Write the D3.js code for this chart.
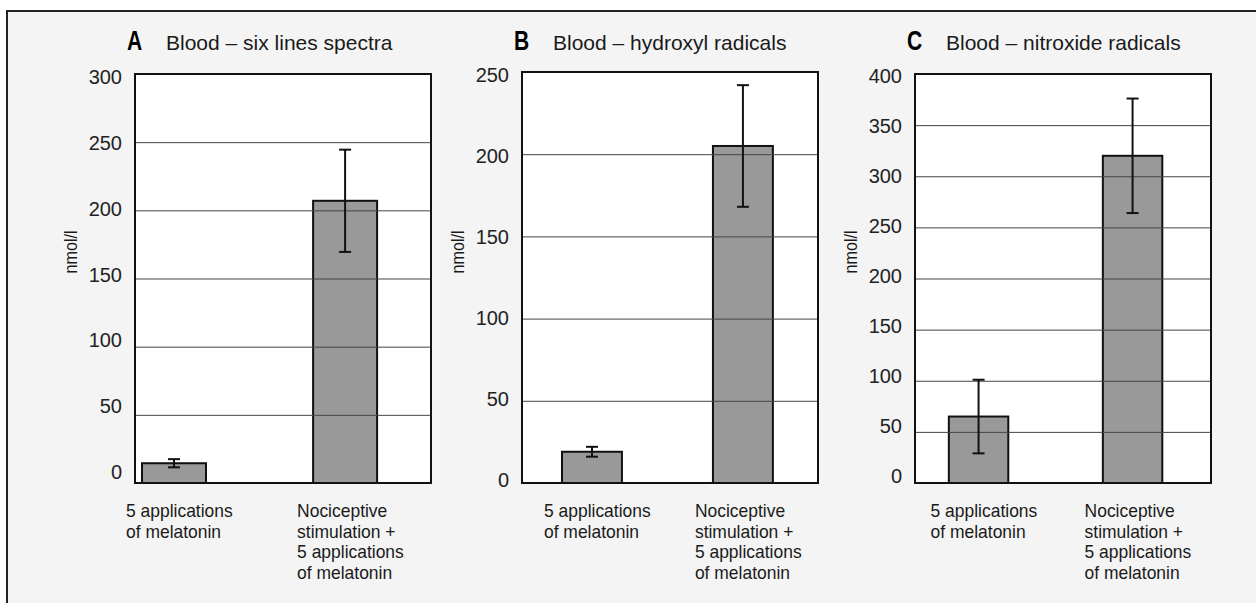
<!DOCTYPE html>
<html>
<head>
<meta charset="utf-8">
<script src="https://cdn.jsdelivr.net/npm/d3@7"></script>
<style>
    body { margin: 0; background: #ffffff; }
    svg { display: block; }
    .sans { font-family: "Liberation Sans", Arial, sans-serif; fill: #1a1a1a; }
</style>
</head>
<body>
<div id="chart-container"></div>
<script>
// data
const categories = [
    ["5 applications", "of melatonin"],
    ["Nociceptive", "stimulation +", "5 applications", "of melatonin"]
];
const panelLetters = ["A", "B", "C"];
const panelTitles = ["Blood \u2013 six lines spectra", "Blood \u2013 hydroxyl radicals", "Blood \u2013 nitroxide radicals"];
const yMaxima = [300, 250, 400];
const tickStep = 50;
const yLabel = "nmol/l";

const meansA = [14.5, 207];
const sdA = [3, 37.5];
const meansB = [19, 205];
const sdB = [3, 37];
const meansC = [65, 320];
const sdC = [36, 56];

const means = [meansA, meansB, meansC];
const sds = [sdA, sdB, sdC];

const width = 1256;
const height = 603;

// plot boxes and bar spacing for each panel
const layout = [
    { left: 135, top: 74, bottom: 483, w: 296, pi: 0.626, po: 0.178, align: 0.115, shift: [-11, 3.5] },
    { left: 522, top: 72, bottom: 483, w: 296, pi: 0.603, po: 0.282, align: 0.47, shift: [-3, 3] },
    { left: 915, top: 74, bottom: 483, w: 296, pi: 0.614, po: 0.268, align: 0.41, shift: [-7, 2] }
];

const svg = d3.select("#chart-container")
    .append("svg")
    .attr("width", width)
    .attr("height", height);

// outer frame
svg.append("rect")
    .attr("x", 7)
    .attr("y", 11)
    .attr("width", width + 10)
    .attr("height", height + 10)
    .attr("fill", "#f4f4f4")
    .attr("stroke", "#222")
    .attr("stroke-width", 2);

layout.forEach(function(L, i) {
    const g = svg.append("g");

    const x = d3.scaleBand()
        .domain([0, 1])
        .range([L.left, L.left + L.w])
        .paddingInner(L.pi)
        .paddingOuter(L.po)
        .align(L.align);

    const y = d3.scaleLinear()
        .domain([0, yMaxima[i]])
        .range([L.bottom, L.top]);

    // tick labels sit a little off the grid lines in the original
    const yLab = d3.scaleLinear()
        .domain([0, yMaxima[i]])
        .range([L.bottom + L.shift[0], L.top + L.shift[1]]);

    const ticks = d3.range(0, yMaxima[i] + 1, tickStep);

    // plot area
    g.append("rect")
        .attr("x", L.left)
        .attr("y", L.top)
        .attr("width", L.w)
        .attr("height", L.bottom - L.top)
        .attr("fill", "#fff");

    // bars
    g.selectAll(".bar")
        .data(means[i])
        .enter().append("rect")
        .attr("class", "bar")
        .attr("x", function(d, j) { return x(j); })
        .attr("y", function(d) { return y(d); })
        .attr("width", x.bandwidth())
        .attr("height", function(d) { return y(0) - y(d); })
        .attr("fill", "#999")
        .attr("stroke", "#111")
        .attr("stroke-width", 2);

    // grid lines (drawn over the bars, as in the figure)
    g.append("g")
        .attr("transform", "translate(" + L.left + ",0)")
        .call(d3.axisRight(y).tickValues(ticks.slice(1, -1)).tickSize(L.w).tickFormat(""))
        .call(function(a) { a.select(".domain").remove(); })
        .selectAll("line")
        .attr("stroke", "#444")
        .attr("stroke-width", 1);

    // error bars
    const eb = g.selectAll(".err")
        .data(means[i])
        .enter().append("g")
        .attr("class", "err")
        .attr("stroke", "#111")
        .attr("stroke-width", 2);
    eb.append("line")
        .attr("x1", function(d, j) { return x(j) + x.bandwidth() / 2; })
        .attr("x2", function(d, j) { return x(j) + x.bandwidth() / 2; })
        .attr("y1", function(d, j) { return y(d + sds[i][j]); })
        .attr("y2", function(d, j) { return y(d - sds[i][j]); });
    [1, -1].forEach(function(sign) {
        eb.append("line")
            .attr("x1", function(d, j) { return x(j) + x.bandwidth() / 2 - 6; })
            .attr("x2", function(d, j) { return x(j) + x.bandwidth() / 2 + 6; })
            .attr("y1", function(d, j) { return y(d + sign * sds[i][j]); })
            .attr("y2", function(d, j) { return y(d + sign * sds[i][j]); });
    });

    // plot frame
    g.append("rect")
        .attr("x", L.left)
        .attr("y", L.top)
        .attr("width", L.w)
        .attr("height", L.bottom - L.top)
        .attr("fill", "none")
        .attr("stroke", "#111")
        .attr("stroke-width", 2);

    // y tick labels
    g.append("g")
        .attr("transform", "translate(" + (L.left - 13) + ",0)")
        .call(d3.axisLeft(yLab).tickValues(ticks).tickSize(0).tickPadding(0))
        .call(function(a) { a.select(".domain").remove(); })
        .selectAll("text")
        .attr("fill", null)
        .attr("font-size", null);
    g.selectAll(".tick text")
        .style("font-family", "'Liberation Sans', Arial, sans-serif")
        .style("font-size", "20px")
        .style("fill", "#222");

    // y axis title (squeezed to look condensed)
    g.append("text")
        .attr("class", "sans")
        .attr("transform", "translate(" + (L.left - 58) + ",252) rotate(-90) scale(0.85,1)")
        .attr("text-anchor", "middle")
        .style("font-size", "19px")
        .text(yLabel);

    // panel letter and title
    g.append("text")
        .attr("class", "sans")
        .attr("transform", "translate(" + (L.left - 8) + ",50) scale(0.78,1)")
        .style("font-size", "27px")
        .style("font-weight", "bold")
        .style("fill", "#000")
        .text(panelLetters[i]);
    g.append("text")
        .attr("class", "sans")
        .attr("x", L.left + 31)
        .attr("y", 50)
        .style("font-size", "21px")
        .text(panelTitles[i]);

    // category labels
    categories.forEach(function(lines, j) {
        const lx = x(j) + x.bandwidth() / 2 - 48;
        g.selectAll(".cat" + j)
            .data(lines)
            .enter().append("text")
            .attr("class", "sans cat" + j)
            .attr("transform", function(d, k) {
                return "translate(" + lx + "," + (L.bottom + 34 + k * 20.7) + ") scale(0.97,1)";
            })
            .style("font-size", "18px")
            .text(function(d) { return d; });
    });
});
</script>
</body>
</html>
